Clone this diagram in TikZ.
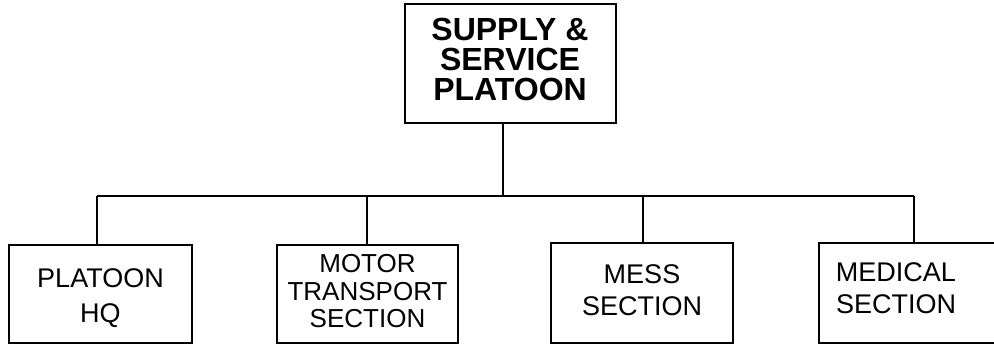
\documentclass[tikz,border=0pt]{standalone}
\usepackage{fontspec}
\setmainfont{Liberation Sans}
\begin{document}
\begin{tikzpicture}[x=1pt,y=-1pt,
  unitbox/.style={draw,line width=1.8pt,rectangle,inner sep=0pt},
  unittext/.style={align=center,inner sep=0pt,font=\fontsize{27}{32}\selectfont},
  link/.style={line width=1.6pt}]
\useasboundingbox (0,0) rectangle (994,345);
\node[unitbox,minimum width=211pt,minimum height=119pt] (top) at (510.5,63.5) {};
\node[unittext,font=\fontsize{32}{30}\selectfont\bfseries] (topt) at (510,59) {SUPPLY \&\\SERVICE\\PLATOON};
\node[unitbox,minimum width=183pt,minimum height=98pt] (b1) at (100.5,294) {};
\node[unittext,font=\fontsize{27}{35}\selectfont] (b1t) at (100.5,298) {PLATOON\\HQ};
\node[unitbox,minimum width=181pt,minimum height=98pt] (b2) at (367.5,294) {};
\node[unittext,font=\fontsize{26}{27.5}\selectfont] (b2t) at (367.5,291.5) {MOTOR\\TRANSPORT\\SECTION};
\node[unitbox,minimum width=182pt,minimum height=100pt] (b3) at (642,293) {};
\node[unittext] (b3t) at (642,290) {MESS\\SECTION};
\node[unitbox,minimum width=181pt,minimum height=100pt] (b4) at (909.5,293) {};
\node[unittext] (b4t) at (896,288) {MEDICAL\\SECTION};
\coordinate (j0) at (503,196);
\coordinate (j1) at (97,196);
\coordinate (j2) at (367,196);
\coordinate (j3) at (643,196);
\coordinate (j4) at (914,196);
\draw[link] (top.south -| j0) -- (j0);
\draw[link] (j1) -- (j4);
\draw[link] (j1) -- (b1.north -| j1);
\draw[link] (j2) -- (b2.north -| j2);
\draw[link] (j3) -- (b3.north -| j3);
\draw[link] (j4) -- (b4.north -| j4);
\end{tikzpicture}
\end{document}
